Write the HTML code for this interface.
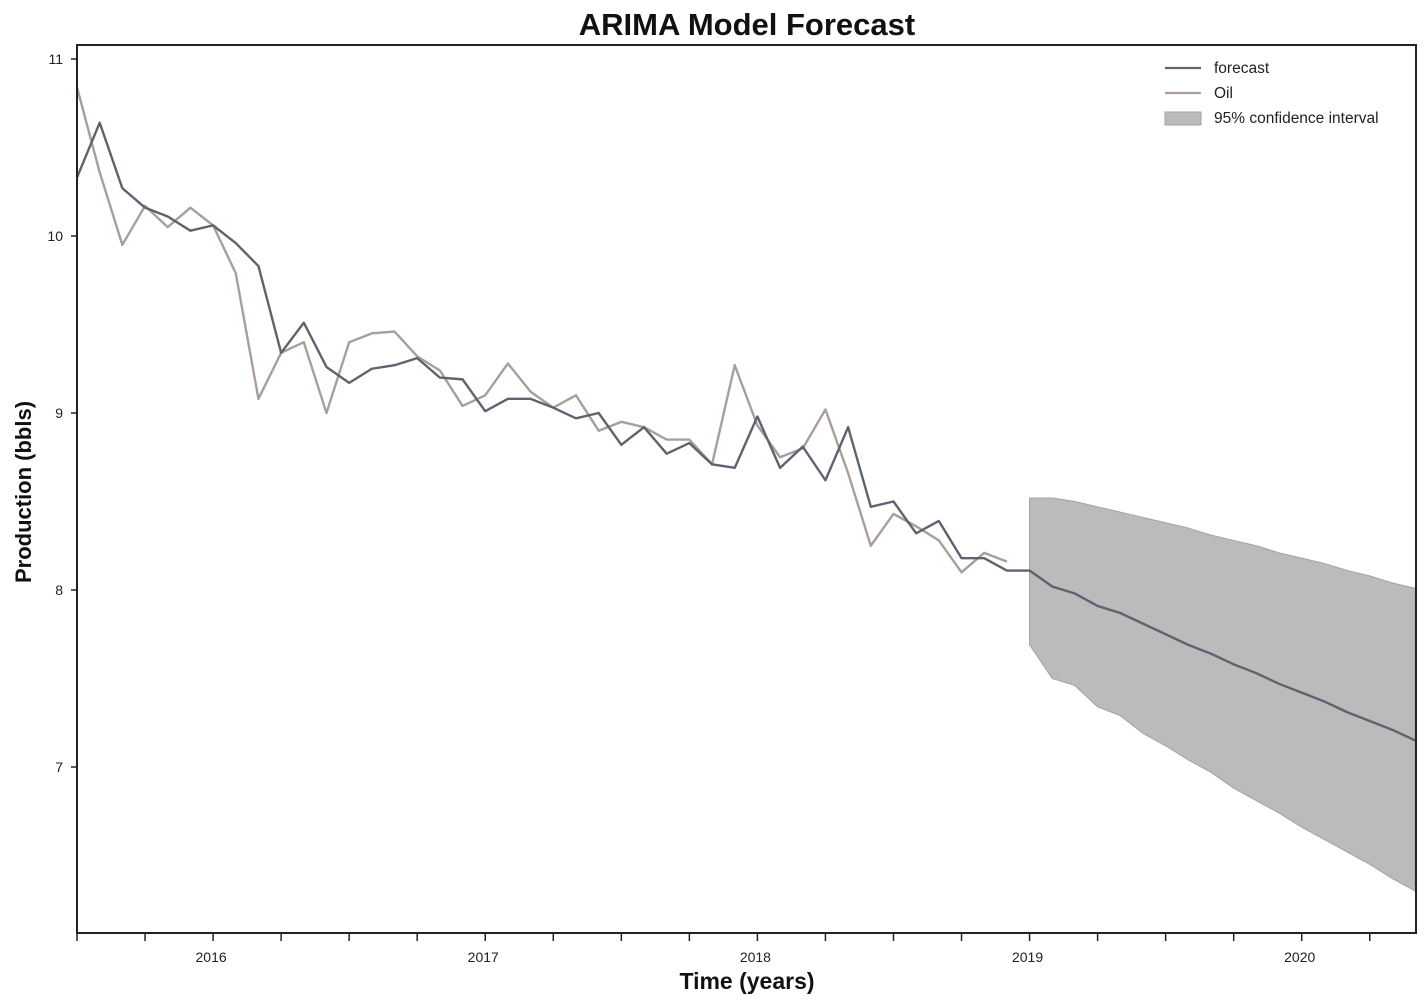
<!DOCTYPE html>
<html><head><meta charset="utf-8"><style>
body{margin:0;background:#fff;}
svg{display:block;font-family:"Liberation Sans",Arial,sans-serif;}
</style></head><body>
<svg id="chart" width="1425" height="1002">
<text x="747" y="35" text-anchor="middle" font-size="31" font-weight="bold" fill="#111">ARIMA Model Forecast</text>
<text transform="translate(31,492) rotate(-90)" text-anchor="middle" font-size="22" font-weight="bold" fill="#111">Production (bbls)</text>
<text x="747" y="989" text-anchor="middle" font-size="23" font-weight="bold" fill="#111">Time (years)</text>
<g id="band"></g>
<g id="lines"></g>
<g id="axes"></g>
<g>
 <line x1="1165" y1="68" x2="1201" y2="68" stroke="#5f6370" stroke-width="2.2"/>
 <text x="1214" y="73" font-size="15.5" fill="#222">forecast</text>
 <line x1="1165" y1="93" x2="1201" y2="93" stroke="#a89f9c" stroke-width="2.2"/>
 <text x="1214" y="98" font-size="15.5" fill="#222">Oil</text>
 <rect x="1165" y="112" width="36" height="13" fill="#bbb" stroke="#a8a0a0"/>
 <text x="1214" y="123" font-size="15.5" fill="#222">95% confidence interval</text>
</g>
</svg>
<script>
const forecastValues=[10.33,10.64,10.27,10.16,10.11,10.03,10.06,9.96,9.83,9.34,9.51,9.26,9.17,9.25,9.27,9.31,9.20,9.19,9.01,9.08,9.08,9.03,8.97,9.00,8.82,8.92,8.77,8.83,8.71,8.69,8.98,8.69,8.81,8.62,8.92,8.47,8.50,8.32,8.39,8.18,8.18,8.11,8.11,8.02,7.98,7.91,7.87,7.81,7.75,7.69,7.64,7.58,7.53,7.47,7.42,7.37,7.31,7.26,7.21,7.15];
const oilValues=[10.84,10.36,9.95,10.17,10.05,10.16,10.06,9.79,9.08,9.34,9.40,9.00,9.40,9.45,9.46,9.32,9.24,9.04,9.10,9.28,9.12,9.03,9.10,8.90,8.95,8.92,8.85,8.85,8.71,9.27,8.93,8.75,8.80,9.02,8.66,8.25,8.43,8.36,8.28,8.10,8.21,8.16];
const ciStart=42;
const ciUpper=[8.52,8.52,8.50,8.47,8.44,8.41,8.38,8.35,8.31,8.28,8.25,8.21,8.18,8.15,8.11,8.08,8.04,8.01];
const ciLower=[7.69,7.50,7.46,7.34,7.29,7.19,7.12,7.04,6.97,6.88,6.81,6.74,6.66,6.59,6.52,6.45,6.37,6.30];
const yTicks=[7,8,9,10,11];
const xTickLabels=["2016","2017","2018","2019","2020"];
const xTickLabelIdx=[6,18,30,42,54];

const L=77,R=1416,T=45,B=933;
const x=i=>L+i*22.68;
const y=v=>59+(11-v)*177;
const NS="http://www.w3.org/2000/svg";
function mk(tag,attrs,parent){const e=document.createElementNS(NS,tag);for(const k in attrs)e.setAttribute(k,attrs[k]);parent.appendChild(e);return e;}
const band=document.getElementById('band'),lines=document.getElementById('lines'),axes=document.getElementById('axes');
let pts=ciUpper.map((v,j)=>x(ciStart+j)+','+y(v));
for(let j=ciLower.length-1;j>=0;j--)pts.push(x(ciStart+j)+','+y(ciLower[j]));
const poly=mk('polygon',{points:pts.join(' '),fill:'#bbbbbb',stroke:'#a8a0a0','stroke-width':1},band);


const oil=mk('polyline',{points:oilValues.map((v,i)=>x(i)+','+y(v)).join(' '),fill:'none',stroke:'#a89f9c','stroke-width':2.4,'stroke-linejoin':'round'},lines);


const fc=mk('polyline',{points:forecastValues.map((v,i)=>x(i)+','+y(v)).join(' '),fill:'none',stroke:'#5f6370','stroke-width':2.4,'stroke-linejoin':'round'},lines);


const frame=mk('rect',{x:L,y:T,width:R-L,height:B-T,fill:'none',stroke:'#222','stroke-width':2},axes);


yTicks.forEach(v=>{
 const t=mk('line',{x1:L-6,x2:L,y1:y(v),y2:y(v),stroke:'#222','stroke-width':1.5},axes);
 
 
 const lb=mk('text',{x:L-14,y:y(v)+5,'text-anchor':'end','font-size':14,fill:'#222'},axes);
 lb.textContent=String(v);
 
 
});
for(let i=0;i<=59;i+=3){
 const t=mk('line',{x1:x(i),x2:x(i),y1:B,y2:B+8,stroke:'#222','stroke-width':1.5},axes);
 
 
}
xTickLabels.forEach((s,k)=>{
 const lb=mk('text',{x:x(xTickLabelIdx[k])-2,y:962,'text-anchor':'middle','font-size':14,fill:'#222'},axes);
 lb.textContent=s;
 
 
});
</script>
</body></html>
